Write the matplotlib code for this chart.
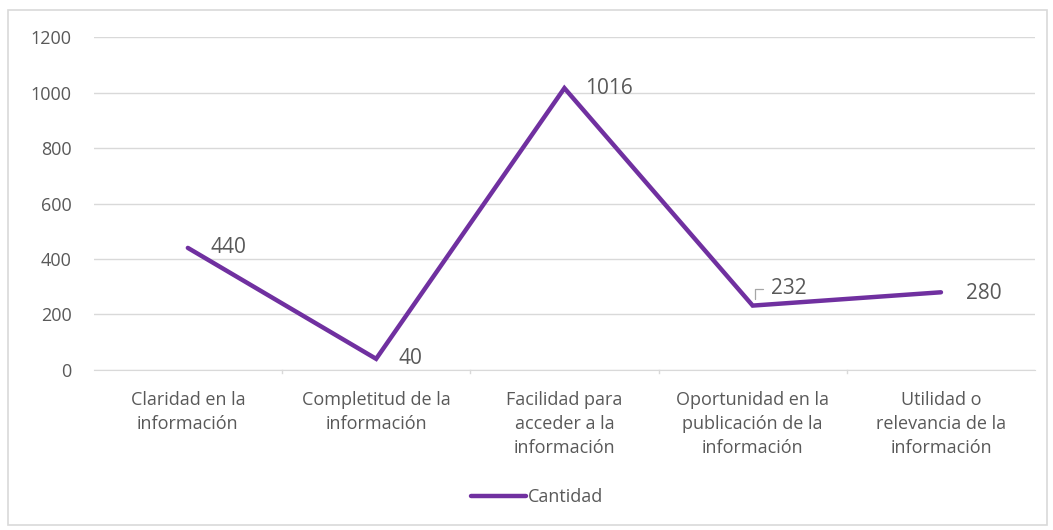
import matplotlib.pyplot as plt
from matplotlib.patches import Rectangle

categorias = [
    "Claridad en la\ninformación",
    "Completitud de la\ninformación",
    "Facilidad para\nacceder a la\ninformación",
    "Oportunidad en la\npublicación de la\ninformación",
    "Utilidad o\nrelevancia de la\ninformación",
]
cantidad = [440, 40, 1016, 232, 280]
y_ticks = [0, 200, 400, 600, 800, 1000, 1200]

purple = "#7030A0"
gray_text = "#595959"
grid_color = "#D9D9D9"

plt.rcParams["font.family"] = ["Open Sans", "DejaVu Sans"]

fig = plt.figure(figsize=(10.53, 5.30), dpi=100)
ax = fig.add_axes([0.089, 0.302, 0.894, 0.628])

x = list(range(len(categorias)))
line, = ax.plot(x, cantidad, color=purple, linewidth=3.2,
                solid_capstyle="round", solid_joinstyle="miter", label="Cantidad")

# data labels (offsets in points)
offsets = [(16, 0), (16, 0), (15, 0), (13, 12), (18, -1)]
for xi, v, (dx, dy) in zip(x, cantidad, offsets):
    ax.annotate(str(v), (xi, v), xytext=(dx, dy), textcoords="offset points",
                ha="left", va="center", fontsize=15, color=gray_text)
# leader line for the 232 label
ax.annotate("", (3 + 0.01, cantidad[3] + 15), xytext=(3 + 0.07, cantidad[3] + 60),
            arrowprops=dict(arrowstyle="-", color="#A6A6A6", lw=0.9,
                            connectionstyle="angle,angleA=0,angleB=90,rad=0"))

ax.set_xlim(-0.5, len(categorias) - 0.5)
ax.set_ylim(0, 1200)
ax.set_yticks(y_ticks)
ax.set_xticks(x)
ax.set_xticklabels(categorias, fontsize=13, color=gray_text, linespacing=1.45)
ax.tick_params(axis="y", length=0, labelsize=13, labelcolor=gray_text, pad=16)
ax.tick_params(axis="x", length=0, pad=15)
ax.yaxis.grid(True, color=grid_color, linewidth=1)
ax.set_axisbelow(True)
for side in ["top", "right", "left"]:
    ax.spines[side].set_visible(False)
ax.spines["bottom"].set_color(grid_color)

# category separators on the axis
for b in [0.5, 1.5, 2.5, 3.5]:
    ax.plot([b, b], [0, -12], color=grid_color, lw=1, clip_on=False)

fig.legend(handles=[line], loc="center", bbox_to_anchor=(0.51, 0.062),
           frameon=False, fontsize=13, labelcolor=gray_text,
           handlelength=3.0, handletextpad=0.1)

fig.patches.append(Rectangle((0.008, 0.01), 0.986, 0.972, transform=fig.transFigure,
                             fill=False, edgecolor="#D9D9D9", linewidth=1.2))

fig.savefig("out.png", dpi=100)
